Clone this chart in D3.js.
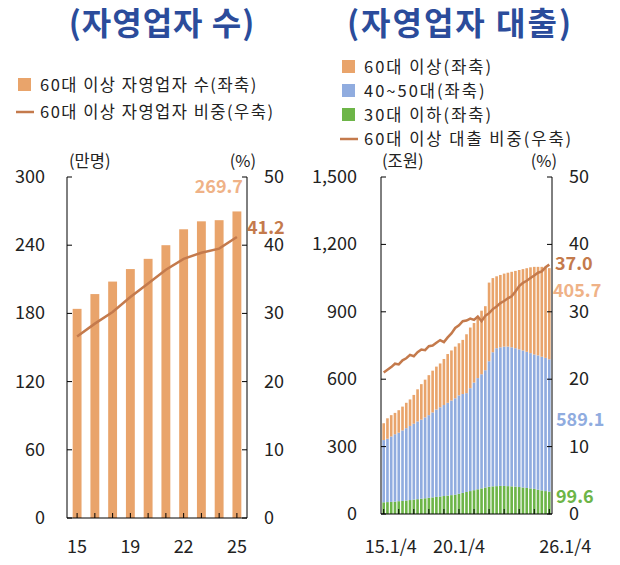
<!DOCTYPE html>
<html><head><meta charset="utf-8">
<script src="https://cdn.jsdelivr.net/npm/d3@7"></script>
<style>body{margin:0;background:#fff}text{font-family:"Noto Sans CJK KR","Noto Sans",sans-serif}</style>
</head><body><svg id="c" width="620" height="565"></svg>
<script>
// left panel: self-employed 60+
var years = ["15","16","17","18","19","20","21","22","23","25"];
var yearLabels = {0:"15",3:"19",6:"22",9:"25"};
var count60 = [184,197,208,219,228,240,254,261,262,269.7];
var share60 = [26.6,28.5,30.2,32.4,34.4,36.4,38.0,38.9,39.5,41.2];

// right panel: loans, quarterly
var quarterLabels = {0:"15.1/4",20:"20.1/4",44:"26.1/4"};
var loanYoung = [52,53,54,55,57,58,60,62,64,66,68,70,72,74,76,78,80,82,84,86,90,94,98,102,106,110,114,118,121,123,124,125,125,124,123,122,120,118,116,114,112,108,105,102,99.6];
var loanMidTop = [329,335,345,355,362,372,382,392,402,412,420,430,440,452,465,475,485,495,505,515,528,534,538,560,585,605,622,640,680,720,738,742,745,745,742,738,733,728,722,716,710,706,700,695,688.7];
var loanTotal = [404,426,440,450,462,478,495,510,530,555,578,598,618,638,656,670,690,712,728,745,760,775,800,830,850,878,905,925,1030,1050,1058,1064,1070,1074,1078,1082,1086,1090,1094,1098,1100,1100,1100,1098,1094.4];
var loanShare = [21.0,21.4,21.8,22.3,22.2,22.8,23.1,23.6,23.4,24.0,24.4,24.3,24.9,25.0,25.4,25.8,25.5,26.2,26.8,27.6,28.0,28.6,28.7,29.0,28.8,29.3,28.6,29.4,29.8,30.4,30.8,31.3,31.6,32.0,32.3,33.0,33.8,34.3,34.6,35.0,35.4,35.8,36.0,36.6,37.0];

var ORANGE="#e9a46b", LINE="#c47a4c", BLUE="#90acdf", GREEN="#6db548", TITLE="#2b4c9b", LABEL_OR="#efb287";
var svg = d3.select("#c");

function text(x,y,s,o){
  o=o||{};
  return svg.append("text").attr("x",x).attr("y",y).text(s)
    .attr("font-size",o.size||15).attr("fill",o.fill||"#222")
    .attr("letter-spacing",o.ls||0)
    .attr("font-weight",o.weight||"normal").attr("text-anchor",o.anchor||"start");
}

// titles
text(162,35,"(자영업자 수)",{size:32,weight:"bold",fill:TITLE,anchor:"middle",ls:1});
text(460,35,"(자영업자 대출)",{size:32,weight:"bold",fill:TITLE,anchor:"middle",ls:2});

// legends
svg.append("rect").attr("x",18).attr("y",78).attr("width",13).attr("height",13).attr("fill",ORANGE);
text(40,91,"60대 이상 자영업자 수(좌축)",{size:16.5,ls:1.5});
svg.append("line").attr("x1",16).attr("x2",34).attr("y1",112).attr("y2",112).attr("stroke",LINE).attr("stroke-width",2.5);
text(40,118,"60대 이상 자영업자 비중(우축)",{size:16.5,ls:1.5});

var leg = [["60대 이상(좌축)",ORANGE],["40~50대(좌축)",BLUE],["30대 이하(좌축)",GREEN]];
leg.forEach(function(d,i){
  svg.append("rect").attr("x",342).attr("y",60+i*24).attr("width",13).attr("height",13).attr("fill",d[1]);
  text(364,73+i*24,d[0],{size:16.5,ls:2});
});
svg.append("line").attr("x1",340).attr("x2",358).attr("y1",139).attr("y2",139).attr("stroke",LINE).attr("stroke-width",2.5);
text(364,145,"60대 이상 대출 비중(우축)",{size:16.5,ls:2});

function frame(x0,x1,yL,yR,lFmt,lx,rx,ticksL,ticksR,top,bottom){
  var g=svg.append("g");
  g.append("line").attr("x1",x0).attr("x2",x0).attr("y1",top).attr("y2",bottom).attr("stroke","#000");
  g.append("line").attr("x1",x1).attr("x2",x1).attr("y1",top).attr("y2",bottom).attr("stroke","#000");
  g.append("line").attr("x1",x0).attr("x2",x1).attr("y1",bottom).attr("y2",bottom).attr("stroke","#000");
  ticksL.forEach(function(t){
    g.append("line").attr("x1",x0).attr("x2",x0+5).attr("y1",yL(t)).attr("y2",yL(t)).attr("stroke","#000");
    text(lx,yL(t)+6,lFmt(t),{size:18,anchor:"end"});
  });
  ticksR.forEach(function(t){
    g.append("line").attr("x1",x1-5).attr("x2",x1).attr("y1",yR(t)).attr("y2",yR(t)).attr("stroke","#000");
    text(rx,yR(t)+6,t,{size:18});
  });
}

// ---- left chart
var L={x0:67,x1:247,top:177,bottom:518};
var xL=d3.scaleBand().domain(d3.range(years.length)).range([L.x0+3,L.x1-3]).paddingInner(0.5).paddingOuter(0.15);
var yL=d3.scaleLinear().domain([0,300]).range([L.bottom,L.top]);
var yLr=d3.scaleLinear().domain([0,50]).range([L.bottom,L.top]);
svg.selectAll(".lbar").data(count60).enter().append("rect")
  .attr("x",function(d,i){return xL(i);}).attr("width",xL.bandwidth())
  .attr("y",function(d){return yL(d);}).attr("height",function(d){return L.bottom-yL(d);})
  .attr("fill",ORANGE);
frame(L.x0,L.x1,yL,yLr,String,45,264,[0,60,120,180,240,300],[0,10,20,30,40,50],L.top,L.bottom);
svg.append("path").datum(share60).attr("fill","none").attr("stroke",LINE).attr("stroke-width",2.5)
  .attr("d",d3.line().x(function(d,i){return xL(i)+xL.bandwidth()/2;}).y(function(d){return yLr(d);}));
years.forEach(function(y,i){
  var cx=xL(i)+xL.bandwidth()/2;
  svg.append("line").attr("x1",cx).attr("x2",cx).attr("y1",L.bottom).attr("y2",L.bottom-5).attr("stroke","#000");
  if(yearLabels[i]) text(cx,553,yearLabels[i],{size:18,anchor:"middle"});
});
text(69,167,"(만명)",{size:16.5});
text(256,167,"(%)",{size:16.5,anchor:"end"});
text(243,193,"269.7",{size:18,weight:"bold",fill:LABEL_OR,anchor:"end"});
text(247,234,"41.2",{size:18,weight:"bold",fill:LINE});

// ---- right chart
var R={x0:381,x1:552,top:177,bottom:514};
var n=loanTotal.length;
var xR=d3.scaleBand().domain(d3.range(n)).range([R.x0+1,R.x1-1]).paddingInner(0.3).paddingOuter(0.1);
var yR=d3.scaleLinear().domain([0,1500]).range([R.bottom,R.top]);
var yRr=d3.scaleLinear().domain([0,50]).range([R.bottom,R.top]);
var stackRows=d3.range(n).map(function(i){
  return {young:loanYoung[i],mid:loanMidTop[i]-loanYoung[i],old:loanTotal[i]-loanMidTop[i]};
});
var stack=d3.stack().keys(["young","mid","old"])(stackRows);
var cols={young:GREEN,mid:BLUE,old:ORANGE};
svg.selectAll(".ser").data(stack).enter().append("g").attr("fill",function(s){return cols[s.key];})
  .selectAll("rect").data(function(s){return s;}).enter().append("rect")
  .attr("x",function(d,i){return xR(i);}).attr("width",xR.bandwidth())
  .attr("y",function(d){return yR(d[1]);}).attr("height",function(d){return yR(d[0])-yR(d[1]);});
frame(R.x0,R.x1,yR,yRr,d3.format(","),357,569,[0,300,600,900,1200,1500],[0,10,20,30,40,50],R.top,R.bottom);
svg.append("path").datum(loanShare).attr("fill","none").attr("stroke",LINE).attr("stroke-width",2.5)
  .attr("d",d3.line().x(function(d,i){return xR(i)+xR.bandwidth()/2;}).y(function(d){return yRr(d);}));
d3.range(0,n,4).forEach(function(i){
  var cx=xR(i)+xR.bandwidth()/2;
  svg.append("line").attr("x1",cx).attr("x2",cx).attr("y1",R.bottom).attr("y2",R.bottom-5).attr("stroke","#000");
});
Object.keys(quarterLabels).forEach(function(k){
  var cx=xR(+k)+xR.bandwidth()/2;
  text(cx+(+k===0?7:(+k===44?16:0)),553,quarterLabels[k],{size:18,anchor:"middle"});
});
text(382,167,"(조원)",{size:16.5});
text(557,167,"(%)",{size:16.5,anchor:"end"});
text(555,270,"37.0",{size:18,weight:"bold",fill:LINE});
text(553,297,"405.7",{size:18,weight:"bold",fill:LABEL_OR});
text(556,426,"589.1",{size:18,weight:"bold",fill:BLUE});
text(556,503,"99.6",{size:18,weight:"bold",fill:GREEN});
</script></body></html>
